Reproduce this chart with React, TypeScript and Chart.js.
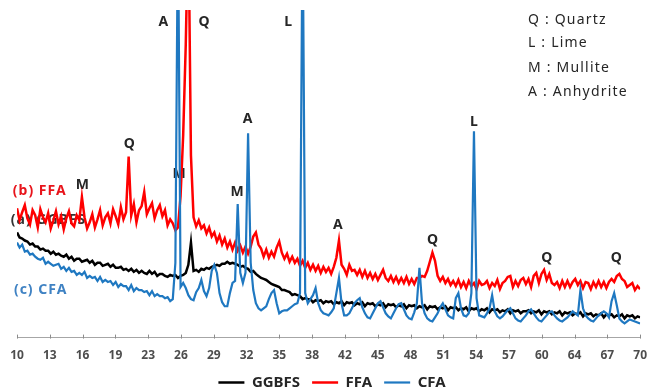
import React, { useEffect, useRef } from "react";
import { Chart, registerables } from "chart.js";

Chart.register(...registerables);

// 2-theta sampling (degrees)
const ANGLE_MIN = 10;
const ANGLE_MAX = 70;
const ANGLE_STEP = 0.25;

const tickLabels = ["10", "13", "16", "19", "23", "26", "29", "32", "35", "38", "42", "45", "48", "51", "54", "57", "60", "64", "67", "70"];

const seriesNames = ["GGBFS", "FFA", "CFA"];
const seriesColors = ["#000000", "#FF0000", "#1F78C1"];

// intensity (a.u.), one value per 0.25 deg from 10 to 70
const ggbfs = [
  104, 99, 98, 96, // 10
  95, 92, 93, 90,
  90, 87, 88, 86,
  86, 83, 85, 82,
  83, 81, 80, 82,
  78, 80, 76, 78, // 15
  78, 75, 76, 77,
  74, 76, 72, 74,
  74, 71, 72, 73,
  70, 72, 69, 69,
  70, 67, 68, 66, // 20
  68, 65, 67, 64,
  66, 64, 63, 66,
  63, 65, 61, 63,
  63, 61, 60, 62,
  61, 62, 59, 61, // 25
  62, 64, 72, 94,
  66, 67, 65, 68,
  67, 69, 68, 70,
  71, 72, 71, 73,
  73, 75, 73, 74, // 30
  73, 72, 70, 71,
  69, 68, 65, 66,
  63, 61, 59, 58,
  57, 55, 53, 52,
  51, 50, 47, 47, // 35
  46, 45, 42, 43,
  42, 41, 38, 39,
  38, 38, 35, 37,
  36, 37, 34, 36,
  35, 36, 33, 35, // 40
  34, 36, 32, 35,
  34, 35, 32, 34,
  33, 35, 31, 34,
  33, 34, 31, 33,
  32, 34, 30, 33, // 45
  32, 33, 30, 32,
  31, 33, 29, 32,
  31, 32, 29, 31,
  30, 32, 28, 31,
  30, 31, 28, 30, // 50
  29, 31, 27, 30,
  29, 30, 27, 29,
  28, 30, 26, 29,
  28, 29, 26, 28,
  27, 29, 25, 28, // 55
  27, 28, 25, 27,
  26, 28, 24, 27,
  26, 27, 24, 26,
  26, 27, 24, 26,
  25, 27, 23, 26, // 60
  25, 26, 23, 25,
  24, 26, 22, 25,
  24, 25, 22, 24,
  23, 25, 21, 24,
  23, 24, 21, 23, // 65
  22, 24, 20, 23,
  22, 23, 20, 22,
  21, 23, 19, 22,
  21, 22, 19, 21,
  20, // 70
];

const ffa = [
  128, 116, 124, 131, // 10
  118, 112, 126, 121,
  109, 127, 119, 114,
  123, 108, 116, 125,
  112, 120, 107, 118,
  125, 113, 110, 121, // 15
  116, 139, 119, 108,
  114, 122, 109, 117,
  126, 111, 119, 123,
  113, 127, 120, 112,
  129, 117, 124, 179, // 20
  121, 132, 114, 126,
  130, 144, 122, 128,
  133, 118, 126, 131,
  120, 126, 111, 117,
  113, 106, 109, 140, // 25
  200, 290, 420, 180,
  119, 110, 116, 108,
  111, 103, 109, 100,
  104, 95, 101, 92,
  98, 89, 95, 87, // 30
  94, 86, 91, 84,
  90, 83, 90, 100,
  104, 92, 88, 80,
  87, 79, 85, 80,
  89, 95, 84, 78, // 35
  83, 75, 80, 74,
  78, 71, 76, 69,
  74, 67, 72, 66,
  71, 64, 70, 65,
  69, 63, 70, 79, // 40
  96, 72, 68, 62,
  72, 66, 67, 62,
  67, 60, 66, 59,
  64, 58, 63, 57,
  62, 67, 59, 56, // 45
  61, 55, 60, 54,
  59, 54, 60, 53,
  58, 53, 59, 59,
  61, 60, 66, 75,
  84, 76, 61, 56, // 50
  60, 54, 58, 52,
  56, 51, 57, 50,
  55, 49, 56, 51,
  54, 48, 56, 52,
  53, 56, 49, 54, // 55
  51, 57, 48, 54,
  56, 60, 61, 50,
  56, 51, 57, 59,
  53, 58, 50, 61,
  64, 54, 63, 67, // 60
  57, 63, 54, 52,
  55, 49, 56, 50,
  56, 50, 55, 58,
  52, 56, 49, 55,
  54, 48, 55, 50, // 65
  56, 50, 55, 49,
  55, 58, 55, 61,
  63, 58, 56, 50,
  52, 54, 47, 51,
  48, // 70
];

const cfa = [
  94, 89, 92, 85, // 10
  86, 82, 83, 80,
  78, 77, 79, 73,
  75, 73, 71, 72,
  73, 68, 70, 66,
  69, 65, 66, 62, // 15
  64, 62, 65, 59,
  61, 59, 60, 56,
  60, 55, 57, 55,
  56, 52, 55, 50,
  53, 51, 51, 47, // 20
  52, 46, 49, 47,
  47, 45, 46, 42,
  46, 41, 43, 41,
  41, 39, 40, 36,
  38, 74, 420, 50, // 25
  54, 49, 42, 38,
  37, 45, 49, 57,
  46, 41, 49, 66,
  72, 64, 44, 35,
  31, 31, 44, 54, // 30
  56, 132, 64, 54,
  64, 202, 74, 47,
  34, 29, 27, 29,
  31, 38, 44, 47,
  34, 24, 26, 27, // 35
  27, 29, 31, 33,
  34, 44, 420, 44,
  34, 38, 42, 49,
  34, 27, 24, 23,
  22, 25, 29, 44, // 40
  59, 34, 22, 22,
  24, 29, 34, 37,
  39, 30, 24, 20,
  19, 24, 29, 34,
  36, 30, 24, 21, // 45
  19, 24, 29, 33,
  34, 28, 22, 19,
  18, 25, 34, 69,
  34, 24, 19, 17,
  16, 20, 24, 30, // 50
  34, 28, 22, 20,
  19, 39, 44, 29,
  22, 21, 24, 44,
  204, 39, 22, 21,
  20, 24, 29, 42, // 55
  26, 21, 19, 21,
  24, 27, 29, 24,
  19, 17, 16, 19,
  22, 26, 28, 24,
  20, 17, 16, 19, // 60
  22, 25, 26, 22,
  19, 17, 16, 18,
  20, 23, 26, 24,
  22, 47, 29, 22,
  19, 17, 16, 19, // 65
  22, 24, 26, 24,
  20, 36, 44, 32,
  19, 16, 14, 16,
  18, 17, 16, 15,
  14, // 70
];

// phase marks above peaks: text, angle (deg), intensity
const peakLabels = [
  { text: "A", angle: 24.1, intensity: 312 },
  { text: "Q", angle: 28.0, intensity: 312 },
  { text: "L", angle: 36.1, intensity: 312 },
  { text: "A", angle: 32.2, intensity: 216 },
  { text: "L", angle: 54.0, intensity: 213 },
  { text: "Q", angle: 20.8, intensity: 191 },
  { text: "M", angle: 16.3, intensity: 151 },
  { text: "M", angle: 25.6, intensity: 162 },
  { text: "M", angle: 31.2, intensity: 144 },
  { text: "A", angle: 40.9, intensity: 111 },
  { text: "Q", angle: 50.0, intensity: 97 },
  { text: "Q", angle: 61.0, intensity: 79 },
  { text: "Q", angle: 67.7, intensity: 79 },
];

const sampleLabels = [
  { text: "(b) FFA", color: "#E8141B", angle: 9.6, intensity: 145 },
  { text: "(a) GGBFS", color: "#333333", angle: 9.4, intensity: 116 },
  { text: "(c) CFA", color: "#3F82C3", angle: 9.7, intensity: 47 },
];

const phaseKey = [
  { text: "Q : Quartz", angle: 59.2, intensity: 314 },
  { text: "L : Lime", angle: 59.2, intensity: 291 },
  { text: "M : Mullite", angle: 59.2, intensity: 267 },
  { text: "A : Anhydrite", angle: 59.2, intensity: 243 },
];

const FONT = '"Noto Sans", "DejaVu Sans", sans-serif';

const textPlugin = {
  id: "xrdText",
  beforeDatasetsDraw(chart: any) {
    const { ctx, scales } = chart;
    const x = scales.x;
    const y = scales.y;
    ctx.save();
    ctx.textBaseline = "middle";
    ctx.textAlign = "center";
    ctx.fillStyle = "#262626";
    ctx.font = `bold 14px ${FONT}`;
    peakLabels.forEach((p) => {
      ctx.fillText(p.text, x.getPixelForValue(p.angle), y.getPixelForValue(p.intensity));
    });
    ctx.textAlign = "left";
    ctx.font = `bold 14px ${FONT}`;
    (ctx as any).letterSpacing = "1px";
    sampleLabels.forEach((s) => {
      ctx.fillStyle = s.color;
      ctx.fillText(s.text, x.getPixelForValue(s.angle), y.getPixelForValue(s.intensity));
    });
    ctx.fillStyle = "#262626";
    ctx.font = `14px ${FONT}`;
    (ctx as any).letterSpacing = "1.2px";
    phaseKey.forEach((k) => {
      ctx.fillText(k.text, x.getPixelForValue(k.angle), y.getPixelForValue(k.intensity));
    });
    ctx.restore();
  },
  afterDraw(chart: any) {
    const { ctx, scales, chartArea } = chart;
    const x = scales.x;
    ctx.save();
    ctx.strokeStyle = "#8C8C8C";
    ctx.lineWidth = 1;
    x.ticks.forEach((t: any) => {
      const px = Math.round(x.getPixelForValue(t.value)) + 0.5;
      ctx.beginPath();
      ctx.moveTo(px, chartArea.bottom - 3);
      ctx.lineTo(px, chartArea.bottom + 1);
      ctx.stroke();
    });
    ctx.restore();
  },
};

export default function App() {
  const canvasRef = useRef<HTMLCanvasElement | null>(null);

  useEffect(() => {
    const canvas = canvasRef.current;
    if (!canvas) return;
    const angles = ggbfs.map((_, i) => ANGLE_MIN + i * ANGLE_STEP);
    const toPoints = (arr: number[]) => arr.map((v, i) => ({ x: angles[i], y: v }));
    const values = [ggbfs, ffa, cfa];
    const orders = [1, 2, 0];
    const widths = [2.5, 2.5, 2.2];
    const chart = new Chart(canvas, {
      type: "line",
      data: {
        datasets: values.map((arr, i) => ({
          label: seriesNames[i],
          data: toPoints(arr),
          borderColor: seriesColors[i],
          backgroundColor: seriesColors[i],
          borderWidth: widths[i],
          pointRadius: 0,
          tension: 0,
          fill: false,
          order: orders[i],
        })),
      },
      options: {
        animation: false,
        responsive: false,
        events: [],
        layout: { padding: { top: 10, left: 17, right: 0, bottom: -8 } },
        scales: {
          x: {
            type: "linear",
            min: ANGLE_MIN,
            max: ANGLE_MAX,
            afterBuildTicks: (scale: any) => {
              const n = tickLabels.length;
              scale.ticks = tickLabels.map((_, i) => ({
                value: ANGLE_MIN + (i * (ANGLE_MAX - ANGLE_MIN)) / (n - 1),
              }));
            },
            border: { display: true, color: "#A6A6A6", width: 1 },
            grid: { display: true, drawOnChartArea: false, drawTicks: true, tickLength: 11, color: "rgba(0,0,0,0)" },
            ticks: {
              autoSkip: false,
              maxRotation: 0,
              padding: 0,
              color: "#4D4D4D",
              font: { family: FONT, size: 12, weight: "bold" },
              callback: (_v: any, index: number) => tickLabels[index],
            },
          },
          y: {
            display: false,
            min: 0,
            max: 324,
          },
        },
        plugins: {
          tooltip: { enabled: false },
          legend: {
            position: "bottom",
            labels: {
              usePointStyle: true,
              pointStyle: "line",
              pointStyleWidth: 26,
              color: "#262626",
              padding: 12,
              font: { family: FONT, size: 15, weight: "bold" },
              sort: (a: any, b: any) => a.datasetIndex - b.datasetIndex,
            },
          },
        },
      },
      plugins: [textPlugin],
    } as any);
    return () => chart.destroy();
  }, []);

  return (
    <div style={{ position: "fixed", left: 0, top: 0, width: 647, height: 392, background: "#ffffff" }}>
      <canvas ref={canvasRef} width={647} height={392} />
    </div>
  );
}
